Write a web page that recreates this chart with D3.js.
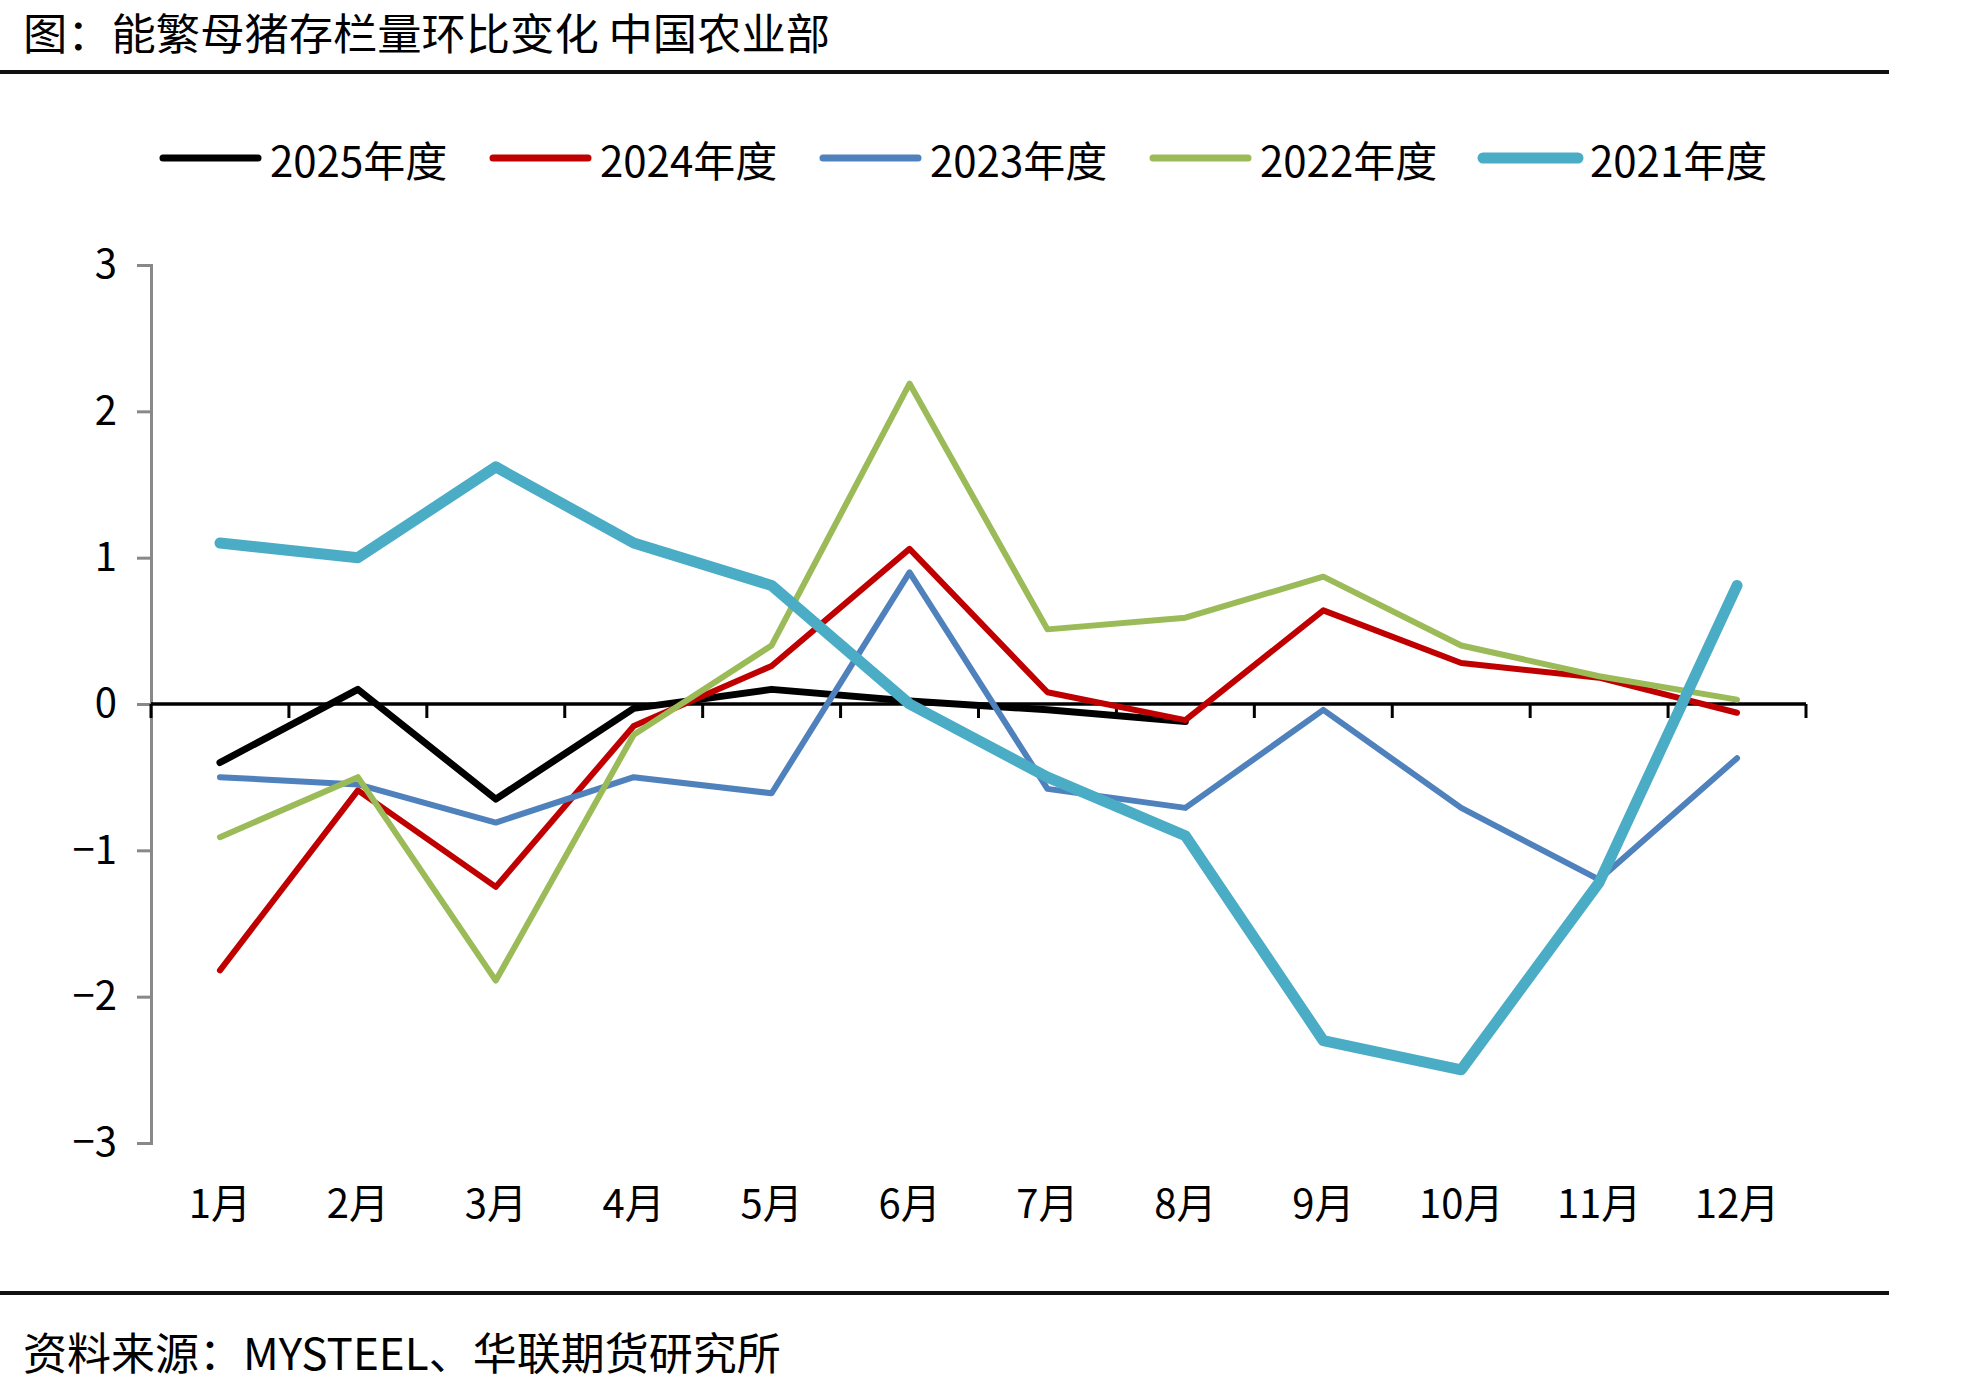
<!DOCTYPE html>
<html>
<head>
<meta charset="utf-8">
<script src="https://cdn.jsdelivr.net/npm/d3@7"></script>
<style>
  html, body { margin: 0; padding: 0; background: #fff; }
  svg text { font-family: "Noto Sans CJK SC", "DejaVu Sans", sans-serif; fill: #000; }
</style>
</head>
<body>
<div id="chart"></div>
<script>
'use strict';

// months on the x axis
var months = ['1月', '2月', '3月', '4月', '5月', '6月', '7月', '8月', '9月', '10月', '11月', '12月'];
var yTicks = [-3, -2, -1, 0, 1, 2, 3];

// 能繁母猪存栏量环比变化 (%)
var y2025 = [-0.40, 0.10, -0.65, -0.03, 0.10, 0.02, -0.04, -0.12];
var y2024 = [-1.82, -0.59, -1.25, -0.15, 0.26, 1.06, 0.08, -0.11, 0.64, 0.28, 0.18, -0.06];
var y2023 = [-0.50, -0.55, -0.81, -0.50, -0.61, 0.90, -0.58, -0.71, -0.04, -0.71, -1.20, -0.37];
var y2022 = [-0.91, -0.50, -1.89, -0.21, 0.40, 2.19, 0.51, 0.59, 0.87, 0.40, 0.19, 0.03];
var y2021 = [1.10, 1.00, 1.62, 1.10, 0.81, 0.00, -0.50, -0.90, -2.30, -2.50, -1.22, 0.81];

var seriesNames = ['2025年度', '2024年度', '2023年度', '2022年度', '2021年度'];
var seriesValues = [y2025, y2024, y2023, y2022, y2021];
var seriesColors = ['#000000', '#C00000', '#4F81BD', '#9BBB59', '#4BACC6'];
var seriesWidths = [7, 6, 6, 6, 11];

var W = 1971, H = 1390;
var plot = {left: 151, right: 1806, top: 265, bottom: 1143};

var svg = d3.select('#chart').append('svg')
	.attr('width', W)
	.attr('height', H);

svg.append('rect').attr('width', W).attr('height', H).attr('fill', '#fff');

// title + rules
svg.append('text')
	.attr('x', 23).attr('y', 50)
	.attr('textLength', 807)
	.attr('lengthAdjust', 'spacingAndGlyphs')
	.style('font-size', '43px')
	.text('图：能繁母猪存栏量环比变化 中国农业部');

svg.append('rect').attr('x', 0).attr('y', 70).attr('width', 1889).attr('height', 4).attr('fill', '#111');
svg.append('rect').attr('x', 0).attr('y', 1291).attr('width', 1889).attr('height', 4).attr('fill', '#111');

svg.append('text')
	.attr('x', 23).attr('y', 1370)
	.style('font-size', '44px')
	.text('资料来源：MYSTEEL、华联期货研究所');

// scales
var x = d3.scaleBand().domain(months).range([plot.left, plot.right]).padding(0);
var y = d3.scaleLinear().domain([-3, 3]).range([plot.bottom, plot.top]);
var cx = function(m) { return x(m) + x.bandwidth() / 2; };

// y axis
var yAxis = svg.append('g')
	.attr('transform', 'translate(' + plot.left + ',0)')
	.call(d3.axisLeft(y).tickValues(yTicks).tickSize(14).tickPadding(20)
		.tickFormat(function(d) { return d < 0 ? '\u2212' + Math.abs(d) : d; }));
yAxis.select('.domain').attr('stroke', '#888').attr('stroke-width', 3);
yAxis.selectAll('.tick line').attr('stroke', '#888').attr('stroke-width', 3);
yAxis.selectAll('.tick text').style('font-size', '40px').attr('font-family', null);

// x axis along zero, ticks on category boundaries
var zeroY = y(0);
var xAxis = svg.append('g').attr('class', 'xaxis');
xAxis.append('line')
	.attr('x1', plot.left).attr('x2', plot.right)
	.attr('y1', zeroY).attr('y2', zeroY)
	.attr('stroke', '#000').attr('stroke-width', 3.5);
var bounds = months.map(function(m) { return x(m); }).concat([plot.right]);
xAxis.selectAll('line.tk').data(bounds).enter().append('line')
	.attr('class', 'tk')
	.attr('x1', function(d) { return d; }).attr('x2', function(d) { return d; })
	.attr('y1', zeroY).attr('y2', zeroY + 14)
	.attr('stroke', '#000').attr('stroke-width', 3);

// month labels below the plot
svg.append('g').selectAll('text').data(months).enter().append('text')
	.attr('x', cx)
	.attr('y', 1201)
	.attr('text-anchor', 'middle')
	.attr('dominant-baseline', 'central')
	.style('font-size', '40px')
	.text(function(d) { return d; });

// lines
var line = d3.line()
	.x(function(d, i) { return cx(months[i]); })
	.y(function(d) { return y(d); });

svg.append('g').selectAll('path').data(seriesValues).enter().append('path')
	.attr('d', line)
	.attr('fill', 'none')
	.attr('stroke', function(d, i) { return seriesColors[i]; })
	.attr('stroke-width', function(d, i) { return seriesWidths[i]; })
	.attr('stroke-linejoin', 'round')
	.attr('stroke-linecap', 'round');

// legend
var legend = svg.append('g').attr('transform', 'translate(163,158)');
var item = legend.selectAll('g').data(seriesNames).enter().append('g')
	.attr('transform', function(d, i) { return 'translate(' + (i * 330) + ',0)'; });
item.append('line')
	.attr('x1', 0).attr('x2', 95).attr('y1', 0).attr('y2', 0)
	.attr('stroke', function(d, i) { return seriesColors[i]; })
	.attr('stroke-width', function(d, i) { return i === 4 ? 11 : 7; })
	.attr('stroke-linecap', 'round');
item.append('text')
	.attr('x', 107).attr('y', 0)
	.attr('dominant-baseline', 'central')
	.style('font-size', '42px')
	.text(function(d) { return d; });
</script>
</body>
</html>
